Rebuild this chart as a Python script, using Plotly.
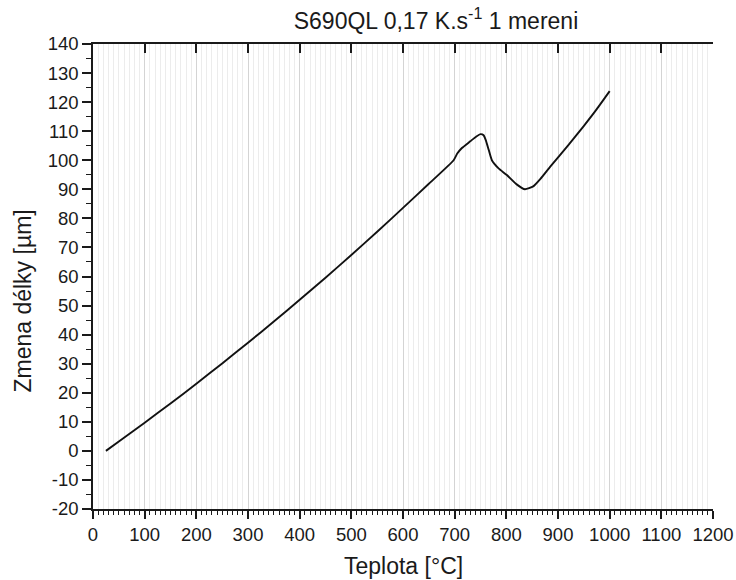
import plotly.graph_objects as go

temperature = [25, 50, 100, 150, 200, 250, 300, 350, 400, 450, 500, 550, 600, 650, 698,
               705, 714, 730, 742, 750, 756, 760, 766, 772, 785, 801, 820, 836, 852,
               866, 885, 920, 949, 975, 1000]
length_change = [0, 3.2, 9.7, 16.3, 23.1, 30.1, 37.2, 44.5, 52, 59.6, 67.4, 75.4, 83.6, 91.9, 100,
                 102.3, 104.2, 106.5, 108.2, 109, 108.6, 107, 103.5, 100, 97.2, 94.9, 91.7, 90, 91,
                 93.6, 97.8, 105.2, 111.6, 117.6, 123.8]

x_ticks = list(range(0, 1201, 100))
y_ticks = list(range(-20, 141, 10))

FONT = "Liberation Sans, Arial, sans-serif"
TXT = "#1a1a1a"

L, R, T, B = 92.5, 713, 44, 509
W, H = 736, 580

fig = go.Figure()
fig.add_trace(go.Scatter(
    x=temperature, y=length_change, mode="lines",
    line=dict(color="#111111", width=1.9, shape="spline", smoothing=0.5),
    showlegend=False, hoverinfo="skip",
))
fig.add_trace(go.Scatter(x=[0, 1200], y=[None, None], xaxis="x2", showlegend=False))

fig.update_layout(
    width=W, height=H,
    margin=dict(l=L, r=W - R, t=T, b=H - B, autoexpand=False),
    paper_bgcolor="white", plot_bgcolor="white",
    font=dict(family=FONT, color=TXT, size=18.5),
    title=dict(text="S690QL 0,17 K.s<sup>-1</sup> 1 mereni", x=436 / W, xanchor="center",
               y=1 - 21 / H, yanchor="middle", font=dict(size=23, family=FONT, color=TXT)),
    xaxis=dict(
        range=[0, 1200], tickvals=x_ticks, ticktext=[str(v) for v in x_ticks],
        showline=True, linecolor=TXT, linewidth=1.6, automargin=False,
        ticks="outside", ticklen=8, tickwidth=1.5, tickcolor=TXT,
        showgrid=True, gridcolor="#d4d4d4", gridwidth=1,
        minor=dict(dtick=10, tick0=0, ticks="outside", ticklen=4.5, tickwidth=1.3,
                   tickcolor=TXT, showgrid=True, gridcolor="#ececec", gridwidth=1),
        zeroline=False, tickfont=dict(size=18.5),
    ),
    xaxis2=dict(
        range=[0, 1200], overlaying="x", side="top", tickvals=x_ticks, automargin=False,
        showticklabels=False, showline=True, linecolor=TXT, linewidth=1.6,
        ticks="inside", ticklen=9, tickwidth=1.5, tickcolor=TXT,
        showgrid=False, zeroline=False,
    ),
    yaxis=dict(
        range=[-20, 140], tickvals=y_ticks, ticktext=[str(v) for v in y_ticks],
        showline=True, linecolor=TXT, linewidth=1.6, automargin=False,
        ticks="outside", ticklen=9, tickwidth=1.5, tickcolor=TXT,
        minor=dict(dtick=5, tick0=0, ticks="outside", ticklen=5, tickwidth=1.3,
                   tickcolor=TXT, showgrid=False),
        showgrid=False, zeroline=False, tickfont=dict(size=18.5),
    ),
    annotations=[
        dict(text="Teplota [°C]", xref="paper", yref="paper",
             x=(403 - L) / (R - L), y=(B - 566) / (B - T),
             xanchor="center", yanchor="middle", showarrow=False,
             font=dict(size=23, family=FONT, color=TXT)),
        dict(text="Zmena délky [µm]", xref="paper", yref="paper", textangle=-90,
             x=(22 - L) / (R - L), y=(B - 301) / (B - T),
             xanchor="center", yanchor="middle", showarrow=False,
             font=dict(size=23, family=FONT, color=TXT)),
    ],
)

fig.write_html("out.html")
